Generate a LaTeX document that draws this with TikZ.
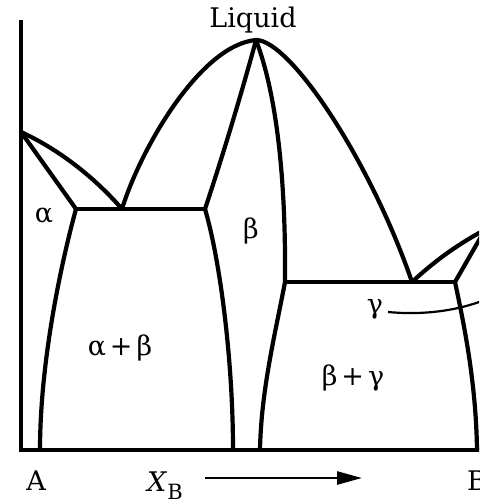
\documentclass[tikz,border=0pt]{standalone}
\usepackage{fontspec}
\setmainfont{DejaVu Serif}
\usetikzlibrary{arrows.meta}
\begin{document}
\begin{tikzpicture}[x=1pt,y=-1pt,
  curve/.style={line width=4.2pt, line join=round, line cap=round},
  axis/.style={line width=3.2pt},
  leader/.style={line width=2.2pt},
  lbl/.style={inner sep=0pt, font=\fontsize{27}{30}\selectfont}]
\useasboundingbox (0,0) rectangle (479,502);
\clip (0,0) rectangle (479,502);
% key points
\coordinate (top) at (21,20);
\coordinate (O) at (21,450);
\coordinate (R) at (490,450);
\coordinate (TA) at (21,132);
\coordinate (E1L) at (76,209);
\coordinate (E1) at (122,209);
\coordinate (E1R) at (205,209);
\coordinate (P) at (256,40);
\coordinate (E2L) at (285,282);
\coordinate (E2) at (412,282);
\coordinate (E2R) at (455,282);
\coordinate (G1) at (492,226);
\coordinate (G2) at (490,221);
\coordinate (bA) at (40,450);
\coordinate (bB1) at (233,450);
\coordinate (bB2) at (260,450);
\coordinate (bG) at (477,450);
\coordinate (Lend) at (487,299);
% axes
\draw[axis] (top) -- (O) -- (R);
% alpha side
\draw[curve] (TA) -- (E1L);
\draw[curve] (TA) .. controls (60,150) and (95,178) .. (E1);
\draw[curve] (E1L) -- (E1R);
\draw[curve] (E1L) .. controls (62,260) and (40,360) .. (bA);
% congruent beta
\draw[curve] (E1) .. controls (140,150) and (200,45) .. (P);
\draw[curve] (E1R) .. controls (228,140) and (248,70) .. (P);
\draw[curve] (P) .. controls (275,90) and (286,170) .. (E2L);
\draw[curve] (P) .. controls (290,40) and (370,160) .. (E2);
\draw[curve] (E1R) .. controls (220,260) and (233,360) .. (bB1);
% gamma side
\draw[curve] (E2L) -- (E2R);
\draw[curve] (E2L) .. controls (276,330) and (261,390) .. (bB2);
\draw[curve] (E2) .. controls (440,256) and (465,240) .. (G1);
\draw[curve] (E2R) -- (G2);
\draw[curve] (E2R) .. controls (463,320) and (476,380) .. (bG);
% labels
\node[lbl, anchor=base] (liq) at (253,28) {Liquid};
\node[lbl] (la) at (44,216) {α};
\node[lbl] (lb) at (251,231) {β};
\node[lbl, anchor=base] (lab) at (120,355) {α\hspace{4pt}+\hspace{4pt}β};
\node[lbl, anchor=base] (lbg) at (353,385) {β\hspace{4pt}+\hspace{4pt}γ};
\node[lbl, anchor=base] (lg) at (375,313) {γ};
\draw[leader] (388,312) .. controls (420,315) and (455,312) .. (Lend);
\node[lbl, anchor=base] (nA) at (36,490) {A};
\node[lbl, anchor=base west] (nX) at (147,491) {\itshape X\/\raisebox{-8pt}{\upshape\fontsize{21}{21}\selectfont B}};
\node[lbl, anchor=base west] (nB) at (467,490) {B};
\coordinate (a1) at (205,478);
\coordinate (a2) at (362,478);
\draw[line width=2.6pt, -{Triangle[length=25pt,width=13pt]}] (a1) -- (a2);
\end{tikzpicture}
\end{document}
